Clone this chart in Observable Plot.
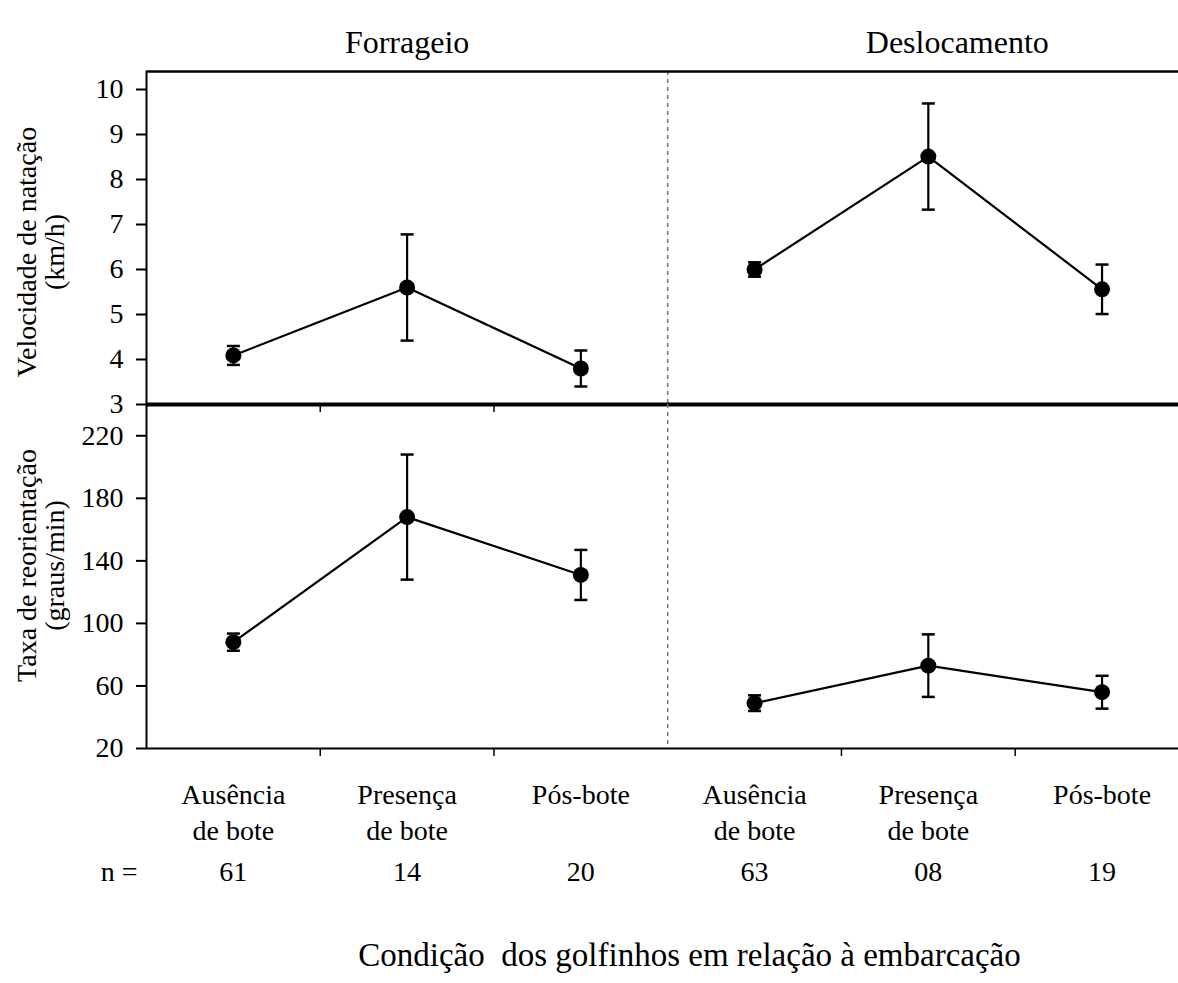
<!DOCTYPE html>
<html>
<head>
<meta charset="utf-8">
<script src="https://cdn.jsdelivr.net/npm/d3@7"></script>
<script src="https://cdn.jsdelivr.net/npm/@observablehq/plot@0.6"></script>
<style>
  body { margin: 0; background: #fff; }
  #chart { position: relative; width: 1178px; height: 983px; }
  #chart svg { position: absolute; left: 0; top: 0; }
</style>
</head>
<body>
<div id="chart"></div>
<script>
// Behaviour groups and dolphin condition relative to the boat
const groups = ["Forrageio", "Deslocamento"];
const conditions = ["Ausência\nde bote", "Presença\nde bote", "Pós-bote"];

// Sample sizes per condition
const nForrageio = ["61", "14", "20"];
const nDeslocamento = ["63", "08", "19"];

// Swimming speed (km/h): mean and error
const speedForrageio = [4.09, 5.60, 3.80];
const speedForrageioErr = [0.21, 1.18, 0.40];
const speedDeslocamento = [6.00, 8.51, 5.56];
const speedDeslocamentoErr = [0.16, 1.18, 0.55];

// Reorientation rate (graus/min): mean and error
const turnForrageio = [88, 168, 131];
const turnForrageioErr = [5.5, 40, 16];
const turnDeslocamento = [49, 73, 56];
const turnDeslocamentoErr = [5, 20, 10.5];

// Axis ticks
const speedTicks = [3, 4, 5, 6, 7, 8, 9, 10];
const turnTicks = [20, 60, 100, 140, 180, 220];

const yTitleSpeed = "Velocidade de natação\n(km/h)";
const yTitleTurn = "Taxa de reorientação\n(graus/min)";
const xTitle = "Condição  dos golfinhos em relação à embarcação";

const series = {
  Forrageio: {n: nForrageio, speed: speedForrageio, speedErr: speedForrageioErr, turn: turnForrageio, turnErr: turnForrageioErr},
  Deslocamento: {n: nDeslocamento, speed: speedDeslocamento, speedErr: speedDeslocamentoErr, turn: turnDeslocamento, turnErr: turnDeslocamentoErr}
};

const rows = groups.flatMap((g, gi) => conditions.map((c, ci) => ({
  group: g,
  pos: gi * conditions.length + ci,
  cond: c,
  n: series[g].n[ci],
  speed: series[g].speed[ci],
  speedErr: series[g].speedErr[ci],
  turn: series[g].turn[ci],
  turnErr: series[g].turnErr[ci]
})));

const boundaries = [0.5, 1.5, 3.5, 4.5];
const divider = [2.5];

const font = '"Liberation Serif", "Times New Roman", serif';
const xScale = {type: "linear", domain: [-0.5, 5.44], label: null};

// Horizontal cap used for the error bars
const capSymbol = {
  draw(ctx, size) {
    const h = Math.sqrt(size / Math.PI);
    ctx.moveTo(-h, 0);
    ctx.lineTo(h, 0);
  }
};

const common = {
  width: 1178,
  height: 983,
  marginLeft: 146,
  marginRight: 0,
  style: {fontFamily: font, fontSize: "28px", color: "black", background: "transparent", overflow: "visible"},
  x: xScale
};

function panelMarks(valueKey, errKey, ticks) {
  return [
    Plot.ruleX(rows, {x: "pos", y1: d => d[valueKey] - d[errKey], y2: d => d[valueKey] + d[errKey], strokeWidth: 2.2}),
    Plot.dot(rows, {x: "pos", y: d => d[valueKey] - d[errKey], symbol: capSymbol, r: 6.5, fill: "none", stroke: "black", strokeWidth: 2.5}),
    Plot.dot(rows, {x: "pos", y: d => d[valueKey] + d[errKey], symbol: capSymbol, r: 6.5, fill: "none", stroke: "black", strokeWidth: 2.5}),
    Plot.line(rows, {x: "pos", y: valueKey, z: "group", stroke: "black", strokeWidth: 2.2}),
    Plot.dot(rows, {x: "pos", y: valueKey, r: 8, fill: "black"}),
    Plot.axisY(ticks, {tickSize: 10, tickPadding: 13, strokeWidth: 2, label: null})
  ];
}

// Upper panel: swimming speed
const topPlot = Plot.plot({
  ...common,
  marginTop: 71,
  marginBottom: 579,
  y: {domain: [3, 10.4], label: null},
  marks: [
    Plot.ruleX(divider, {stroke: "#7a7a7a", strokeWidth: 1.5, strokeDasharray: "4,4"}),
    Plot.ruleY([10.4], {strokeWidth: 2.5}),
    Plot.ruleX([-0.5], {strokeWidth: 2}),
    Plot.axisX(boundaries.slice(0, 2), {tickSize: 8, tickFormat: () => "", strokeWidth: 1.5, label: null}),
    ...panelMarks("speed", "speedErr", speedTicks),
    Plot.ruleY([3], {strokeWidth: 4}),
    Plot.text(groups.slice(0, 1), {x: () => 1, text: d => d, frameAnchor: "top", dy: -41, fontSize: 32}),
    Plot.text(groups.slice(1), {x: () => 4, text: d => d, frameAnchor: "top", dy: -41, dx: 29, fontSize: 32}),
    Plot.text([yTitleSpeed], {text: d => d, frameAnchor: "left", textAnchor: "middle", rotate: -90, dx: -105, dy: 14, lineHeight: 1.0})
  ]
});

// Lower panel: reorientation rate
const bottomPlot = Plot.plot({
  ...common,
  marginTop: 404,
  marginBottom: 235,
  y: {domain: [20, 240], label: null},
  marks: [
    Plot.ruleX(divider, {stroke: "#7a7a7a", strokeWidth: 1.5, strokeDasharray: "4,4"}),
    Plot.ruleY([20], {strokeWidth: 2}),
    Plot.ruleX([-0.5], {strokeWidth: 2}),
    Plot.axisX(boundaries, {tickSize: 8, tickFormat: () => "", strokeWidth: 1.5, label: null}),
    ...panelMarks("turn", "turnErr", turnTicks),
    Plot.text(rows, {x: "pos", text: "cond", frameAnchor: "bottom", dy: 30, lineAnchor: "top", lineHeight: 1.29}),
    Plot.text(rows, {x: "pos", text: "n", frameAnchor: "bottom", dy: 132}),
    Plot.text(["n ="], {x: () => -0.5, text: d => d, frameAnchor: "bottom", dy: 132, dx: -9, textAnchor: "end"}),
    Plot.text([xTitle], {text: d => d, frameAnchor: "bottom", dy: 217, dx: 27, fontSize: 33}),
    Plot.text([yTitleTurn], {text: d => d, frameAnchor: "left", textAnchor: "middle", rotate: -90, dx: -105, dy: -11, lineHeight: 1.0})
  ]
});

const chart = document.getElementById("chart");
chart.append(topPlot, bottomPlot);
</script>
</body>
</html>
